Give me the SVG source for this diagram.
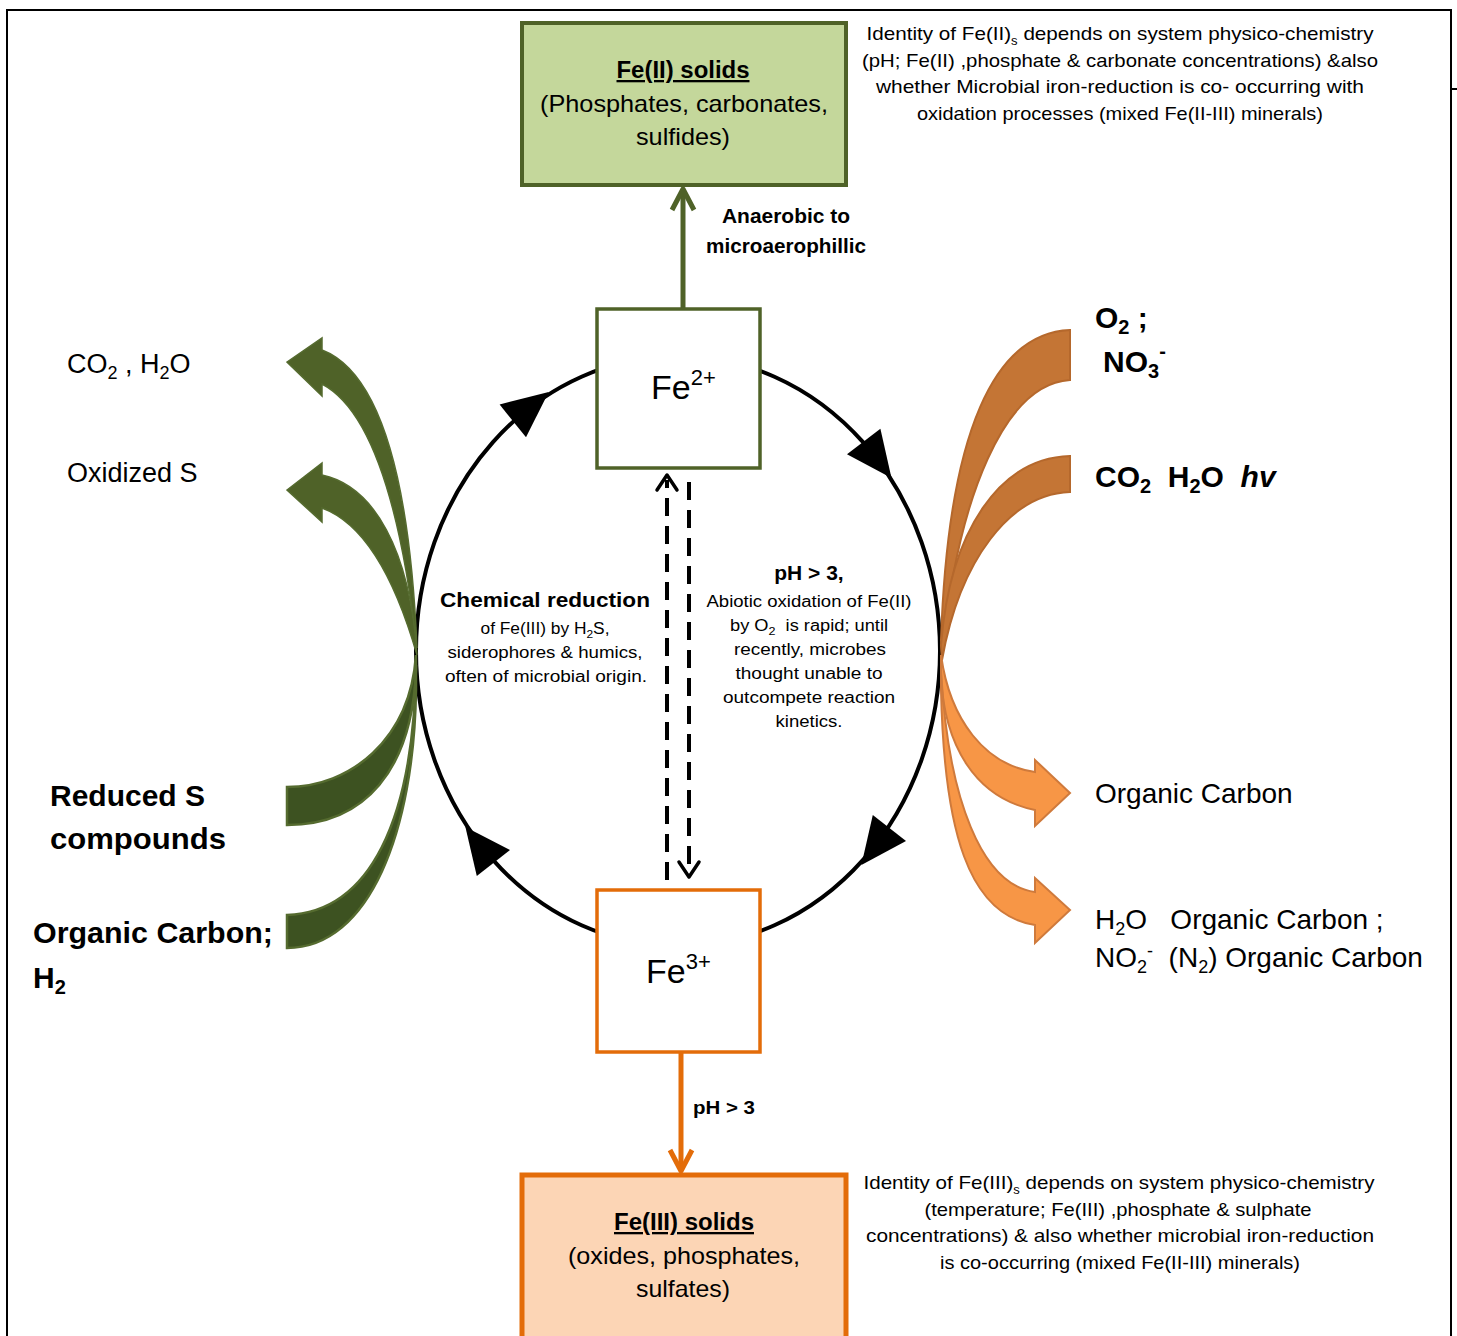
<svg xmlns="http://www.w3.org/2000/svg" width="1457" height="1336" viewBox="0 0 1457 1336">
<style>
.t{font-family:"Liberation Sans",Arial,sans-serif;fill:#000}
.b{font-weight:bold}
.frame{stroke:#000;stroke-width:2;fill:none}
.cyc{stroke:#000;stroke-width:4;fill:none}
.dash{stroke:#000;stroke-width:4;fill:none;stroke-dasharray:18 10}
.chev{stroke:#000;stroke-width:3.5;fill:none;stroke-linecap:round;stroke-linejoin:round}
.g-out{fill:#4f6228;stroke:#556b2f;stroke-width:1.5}
.g-in{fill:#3d5221;stroke:#556b2f;stroke-width:2.5}
.o-in{fill:#c47535;stroke:#b5682c;stroke-width:2}
.o-out{fill:#f79646;stroke:#cf7a3c;stroke-width:2}
.head{fill:#000}
</style>
<rect width="1457" height="1336" fill="#fff"/>
<g id="frame">
<path class="frame" d="M7,1336 V10 H1451 V1336"/>
<path class="frame" d="M1451,89 H1457"/>
</g>
<g id="connectors">
<ellipse class="cyc" cx="678" cy="651" rx="262" ry="295"/>
<polygon class="head" points="548.7,391.9 526,437.3 499.6,404.5"/>
<polygon class="head" points="891.5,478.1 847,454.2 880.4,428.8"/>
<polygon class="head" points="861.4,865 906,841 872.8,815"/>
<polygon class="head" points="465.4,827 510,850 476.8,876"/>
<path class="dash" d="M667,880 V480"/>
<path class="chev" d="M657,490 L667,475 L677,490"/>
<path class="dash" d="M689,482 V874"/>
<path class="chev" d="M679,862 L689,877 L699,862"/>
<path d="M683,308 V190" stroke="#4f6228" stroke-width="5" fill="none"/>
<path d="M672,210 L683,189 L694,210" stroke="#4f6228" stroke-width="5" fill="none" stroke-linejoin="round"/>
<path d="M681,1052 V1170" stroke="#e36c09" stroke-width="5" fill="none"/>
<path d="M670,1150 L681,1171 L692,1150" stroke="#e36c09" stroke-width="5" fill="none" stroke-linejoin="round"/>
<path class="g-out" d="M287,362 L322,338 L322,350 C374,370 409,460 417,648 C399,490 366,407 322,384 L322,396 Z"/>
<path class="g-out" d="M287,490 L322,463 L322,475 C374,486 410,550 417,655 C396,582 366,524 322,508 L322,522 Z"/>
<path class="g-in" d="M287,787 C350,787 410,740 416,655 L416,670 C412,770 365,825 287,825 Z"/>
<path class="g-in" d="M287,915 C370,912 414,820 416,665 L416,690 C414,830 370,948 287,948 Z"/>
<path class="o-in" d="M1070,330 C995,333 948,430 941,640 L942,655 C958,495 1005,384 1070,380 Z"/>
<path class="o-in" d="M1070,456 C1000,458 950,530 941,645 L942,660 C960,560 1010,494 1070,492 Z"/>
<path class="o-out" d="M941,655 C950,720 985,765 1035,772 L1035,760 L1070,793 L1035,826 L1035,810 C975,798 944,745 941,675 Z"/>
<path class="o-out" d="M941,670 C948,800 982,885 1035,892 L1035,878 L1070,910 L1035,943 L1035,925 C968,915 944,830 941,690 Z"/>
</g>
<g id="fe2-solids">
<rect x="522" y="23" width="324" height="162" fill="#c4d79b" stroke="#4f6228" stroke-width="4"/>
<text class="t b" x="683" y="78" font-size="23" text-anchor="middle" text-decoration="underline" textLength="133" lengthAdjust="spacingAndGlyphs">Fe(II) solids</text>
<text class="t" x="684" y="112" font-size="24" text-anchor="middle" textLength="288" lengthAdjust="spacingAndGlyphs">(Phosphates, carbonates,</text>
<text class="t" x="683" y="145" font-size="24" text-anchor="middle" textLength="94" lengthAdjust="spacingAndGlyphs">sulfides)</text>
</g>
<g id="fe2-note">
<text class="t" x="1120" y="40" font-size="19" text-anchor="middle" textLength="507" lengthAdjust="spacingAndGlyphs">Identity of Fe(II)<tspan font-size="12" dy="5">s</tspan><tspan dy="-5">  depends on system physico-chemistry</tspan></text>
<text class="t" x="1120" y="67" font-size="19" text-anchor="middle" textLength="516" lengthAdjust="spacingAndGlyphs">(pH; Fe(II) ,phosphate &amp; carbonate concentrations) &amp;also</text>
<text class="t" x="1120" y="93" font-size="19" text-anchor="middle" textLength="488" lengthAdjust="spacingAndGlyphs">whether Microbial iron-reduction is co- occurring with</text>
<text class="t" x="1120" y="120" font-size="19" text-anchor="middle" textLength="406" lengthAdjust="spacingAndGlyphs">oxidation processes (mixed Fe(II-III) minerals)</text>
</g>
<g id="label-anaerobic">
<text class="t b" x="786" y="223" font-size="20" text-anchor="middle" textLength="128" lengthAdjust="spacingAndGlyphs">Anaerobic to</text>
<text class="t b" x="786" y="253" font-size="20" text-anchor="middle" textLength="160" lengthAdjust="spacingAndGlyphs">microaerophillic</text>
</g>
<g id="fe2">
<rect x="597" y="309" width="163" height="159" fill="#fff" stroke="#4f6228" stroke-width="3.5"/>
<text class="t" x="651" y="399" font-size="34">Fe<tspan font-size="22" dy="-14">2+</tspan></text>
</g>
<g id="fe3">
<rect x="597" y="890" width="163" height="162" fill="#fff" stroke="#e36c09" stroke-width="3.5"/>
<text class="t" x="646" y="983" font-size="34">Fe<tspan font-size="22" dy="-14">3+</tspan></text>
</g>
<g id="label-chemical">
<text class="t b" x="545" y="607" font-size="21" text-anchor="middle" textLength="210" lengthAdjust="spacingAndGlyphs">Chemical reduction</text>
<text class="t" x="545" y="634" font-size="16" text-anchor="middle" textLength="129" lengthAdjust="spacingAndGlyphs">of Fe(III) by H<tspan font-size="11" dy="4">2</tspan><tspan dy="-4">S,</tspan></text>
<text class="t" x="545" y="658" font-size="16" text-anchor="middle" textLength="195" lengthAdjust="spacingAndGlyphs">siderophores &amp; humics,</text>
<text class="t" x="546" y="682" font-size="16" text-anchor="middle" textLength="202" lengthAdjust="spacingAndGlyphs">often of microbial origin.</text>
</g>
<g id="label-abiotic">
<text class="t b" x="809" y="580" font-size="21" text-anchor="middle">pH &gt; 3,</text>
<text class="t" x="809" y="607" font-size="16" text-anchor="middle" textLength="205" lengthAdjust="spacingAndGlyphs">Abiotic oxidation of Fe(II)</text>
<text class="t" x="809" y="631" font-size="16" text-anchor="middle" textLength="158" lengthAdjust="spacingAndGlyphs" xml:space="preserve">by O<tspan font-size="11" dy="4">2</tspan><tspan dy="-4">  is rapid; until</tspan></text>
<text class="t" x="810" y="655" font-size="16" text-anchor="middle" textLength="152" lengthAdjust="spacingAndGlyphs">recently, microbes</text>
<text class="t" x="809" y="679" font-size="16" text-anchor="middle" textLength="147" lengthAdjust="spacingAndGlyphs">thought unable to</text>
<text class="t" x="809" y="703" font-size="16" text-anchor="middle" textLength="172" lengthAdjust="spacingAndGlyphs">outcompete reaction</text>
<text class="t" x="809" y="727" font-size="16" text-anchor="middle" textLength="67" lengthAdjust="spacingAndGlyphs">kinetics.</text>
</g>
<g id="label-ph3">
<text class="t b" x="693" y="1114" font-size="18" textLength="62" lengthAdjust="spacingAndGlyphs">pH &gt; 3</text>
</g>
<g id="fe3-solids">
<rect x="522" y="1175" width="324" height="170" fill="#fcd5b5" stroke="#e36c09" stroke-width="5"/>
<text class="t b" x="684" y="1230" font-size="23" text-anchor="middle" text-decoration="underline" textLength="140" lengthAdjust="spacingAndGlyphs">Fe(III) solids</text>
<text class="t" x="684" y="1264" font-size="24" text-anchor="middle" textLength="232" lengthAdjust="spacingAndGlyphs">(oxides, phosphates,</text>
<text class="t" x="683" y="1297" font-size="24" text-anchor="middle" textLength="94" lengthAdjust="spacingAndGlyphs">sulfates)</text>
</g>
<g id="fe3-note">
<text class="t" x="1119" y="1189" font-size="19" text-anchor="middle" textLength="511" lengthAdjust="spacingAndGlyphs">Identity of Fe(III)<tspan font-size="12" dy="5">s</tspan><tspan dy="-5">  depends on system physico-chemistry</tspan></text>
<text class="t" x="1118" y="1216" font-size="19" text-anchor="middle" textLength="387" lengthAdjust="spacingAndGlyphs">(temperature; Fe(III) ,phosphate &amp; sulphate</text>
<text class="t" x="1120" y="1242" font-size="19" text-anchor="middle" textLength="508" lengthAdjust="spacingAndGlyphs">concentrations) &amp; also whether microbial iron-reduction</text>
<text class="t" x="1120" y="1269" font-size="19" text-anchor="middle" textLength="360" lengthAdjust="spacingAndGlyphs">is co-occurring (mixed Fe(II-III) minerals)</text>
</g>
<g id="left-labels">
<text class="t" x="67" y="373" font-size="27">CO<tspan font-size="18" dy="6">2</tspan><tspan dy="-6"> , H</tspan><tspan font-size="18" dy="6">2</tspan><tspan dy="-6">O</tspan></text>
<text class="t" x="67" y="482" font-size="27">Oxidized S</text>
<text class="t b" x="50" y="806" font-size="30">Reduced S</text>
<text class="t b" x="50" y="849" font-size="30" textLength="176" lengthAdjust="spacingAndGlyphs">compounds</text>
<text class="t b" x="33" y="943" font-size="30" textLength="240" lengthAdjust="spacingAndGlyphs">Organic Carbon;</text>
<text class="t b" x="33" y="988" font-size="30">H<tspan font-size="20" dy="6">2</tspan></text>
</g>
<g id="right-labels">
<text class="t b" x="1095" y="328" font-size="30">O<tspan font-size="20" dy="6">2</tspan><tspan dy="-6"> ;</tspan></text>
<text class="t b" x="1103" y="372" font-size="30">NO<tspan font-size="20" dy="6">3</tspan><tspan font-size="20" dy="-20">-</tspan></text>
<text class="t b" x="1095" y="487" font-size="30" xml:space="preserve">CO<tspan font-size="20" dy="6">2</tspan><tspan dy="-6">  H</tspan><tspan font-size="20" dy="6">2</tspan><tspan dy="-6">O  </tspan><tspan font-style="italic">hv</tspan></text>
<text class="t" x="1095" y="803" font-size="28">Organic Carbon</text>
<text class="t" x="1095" y="929" font-size="28" xml:space="preserve">H<tspan font-size="18" dy="6">2</tspan><tspan dy="-6">O   Organic Carbon ;</tspan></text>
<text class="t" x="1095" y="967" font-size="28" xml:space="preserve">NO<tspan font-size="18" dy="6">2</tspan><tspan font-size="18" dy="-16">-</tspan><tspan dy="10">  (N</tspan><tspan font-size="18" dy="6">2</tspan><tspan dy="-6">) Organic Carbon</tspan></text>
</g>
</svg>
